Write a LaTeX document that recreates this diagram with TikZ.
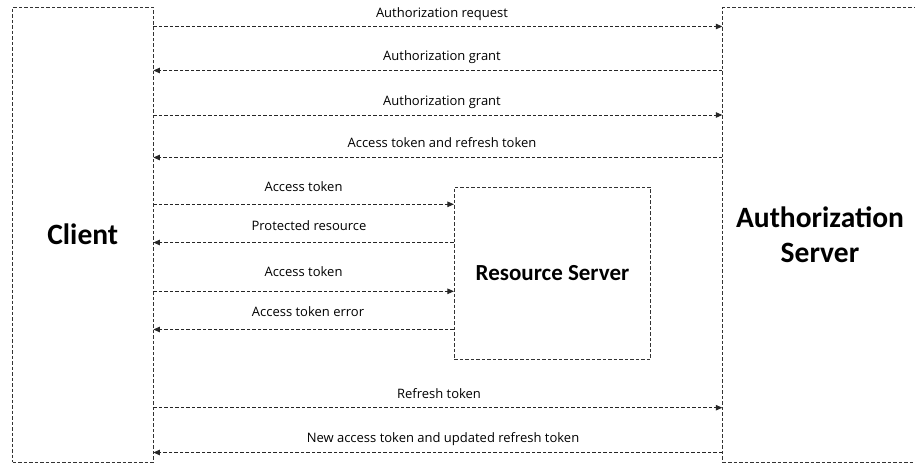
\documentclass[tikz,border=0pt]{standalone}
\usepackage{fontspec}
\setmainfont{Open Sans}
\newfontfamily\boxfont{Carlito}
\usetikzlibrary{arrows.meta}
\begin{document}
\begin{tikzpicture}[x=1pt,y=-1pt,
  boxstyle/.style={draw=black!80,line width=0.8pt,dash pattern=on 3.5pt off 2pt,rectangle,inner sep=0pt,font=\boxfont\bfseries},
  arr/.style={draw=black!85,line width=0.8pt,dash pattern=on 3.5pt off 2pt,-{Triangle[length=6.5pt,width=5.5pt]}},
  lbl/.style={font=\fontsize{13}{15}\selectfont,inner sep=0pt,anchor=base}]
\useasboundingbox (0,0) rectangle (915,465);
\clip (0,0) rectangle (915,465);
\fill[white] (0,0) rectangle (915,465);
\node[boxstyle,minimum width=140.5pt,minimum height=454.5pt,font=\boxfont\bfseries\fontsize{29.5}{36}\selectfont] (client) at (82.75,234.75) {Client};
\node[boxstyle,minimum width=194.6pt,minimum height=454.5pt,align=center,font=\boxfont\bfseries\fontsize{29.5}{35}\selectfont] (auth) at (820,234.75) {Authorization\\Server};
\node[boxstyle,minimum width=196.4pt,minimum height=172pt,font=\boxfont\bfseries\fontsize{23}{28}\selectfont] (rs) at (552.5,273.3) {Resource Server};
% client <-> authorization server
\draw[arr] (client.east |- 0,26.5) -- (auth.west |- 0,26.5);
\node[lbl] (l1) at (442,17.5) {Authorization request};
\draw[arr] (auth.west |- 0,70.5) -- (client.east |- 0,70.5);
\node[lbl] (l2) at (442,61) {Authorization grant};
\draw[arr] (client.east |- 0,115) -- (auth.west |- 0,115);
\node[lbl] (l3) at (442,105.5) {Authorization grant};
\draw[arr] (auth.west |- 0,157.5) -- (client.east |- 0,157.5);
\node[lbl] (l4) at (442,147.5) {Access token and refresh token};
% client <-> resource server
\draw[arr] (client.east |- 0,204.3) -- (rs.west |- 0,204.3);
\node[lbl] (l5) at (303.5,191.5) {Access token};
\draw[arr] (rs.west |- 0,242.5) -- (client.east |- 0,242.5);
\node[lbl] (l6) at (309,230.5) {Protected resource};
\draw[arr] (client.east |- 0,291.3) -- (rs.west |- 0,291.3);
\node[lbl] (l7) at (303.5,276.5) {Access token};
\draw[arr] (rs.west |- 0,329.5) -- (client.east |- 0,329.5);
\node[lbl] (l8) at (308,316.5) {Access token error};
% refresh
\draw[arr] (client.east |- 0,407.7) -- (auth.west |- 0,407.7);
\node[lbl] (l9) at (439,398) {Refresh token};
\draw[arr] (auth.west |- 0,452.5) -- (client.east |- 0,452.5);
\node[lbl] (l10) at (443,442) {New access token and updated refresh token};
\end{tikzpicture}
\end{document}
